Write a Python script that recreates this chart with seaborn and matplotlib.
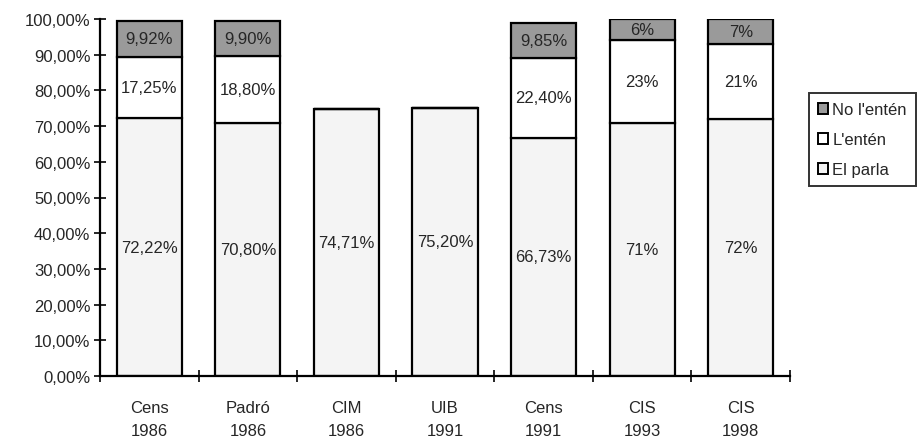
import matplotlib
matplotlib.use("Agg")
import matplotlib.pyplot as plt
from matplotlib.patches import Patch
import seaborn as sns
import pandas as pd
import numpy as np

categories = ["Cens\n1986", "Padró\n1986", "CIM\n1986", "UIB\n1991", "Cens\n1991", "CIS\n1993", "CIS\n1998"]
el_parla = [72.22, 70.80, 74.71, 75.20, 66.73, 71, 72]
l_enten = [17.25, 18.80, 0, 0, 22.40, 23, 21]
no_l_enten = [9.92, 9.90, 0, 0, 9.85, 6, 7]
lab_parla = ["72,22%", "70,80%", "74,71%", "75,20%", "66,73%", "71%", "72%"]
lab_enten = ["17,25%", "18,80%", "", "", "22,40%", "23%", "21%"]
lab_no = ["9,92%", "9,90%", "", "", "9,85%", "6%", "7%"]
yticks = list(range(0, 101, 10))
ytick_labels = ["%d,00%%" % v for v in yticks]

sns.set_style("ticks")
plt.rcParams['font.family'] = ['Liberation Sans', 'DejaVu Sans']

fig = plt.figure(figsize=(9.17, 4.39), dpi=100)
ax = fig.add_axes([100/917, 62/439, 690/917, 357/439])

df = pd.DataFrame({"cat": categories, "parla": el_parla, "enten": l_enten, "no": no_l_enten})
c_parla, c_enten, c_no = "#f4f4f4", "#ffffff", "#9a9a9a"
W = 0.66
sns.barplot(data=df, x="cat", y="parla", color=c_parla, edgecolor="black", linewidth=1.6,
            width=W, saturation=1, ax=ax, errorbar=None)
bottom2 = np.array(el_parla)
sns.barplot(data=df, x="cat", y="enten", color=c_enten, edgecolor="black", linewidth=1.6,
            width=W, saturation=1, ax=ax, errorbar=None, bottom=bottom2)
bottom3 = np.array(el_parla) + np.array(l_enten)
sns.barplot(data=df, x="cat", y="no", color=c_no, edgecolor="black", linewidth=1.6,
            width=W, saturation=1, ax=ax, errorbar=None, bottom=bottom3)

fs = 12
for i in range(len(categories)):
    ax.text(i, el_parla[i] / 2, lab_parla[i], ha="center", va="center", fontsize=fs)
    if lab_enten[i]:
        ax.text(i, el_parla[i] + l_enten[i] / 2, lab_enten[i], ha="center", va="center", fontsize=fs)
    if lab_no[i]:
        ax.text(i, bottom3[i] + no_l_enten[i] / 2, lab_no[i], ha="center", va="center", fontsize=fs)

ax.set_xlim(-0.5, len(categories) - 0.5)
ax.set_ylim(0, 100)
ax.set_yticks(yticks)
ax.set_yticklabels(ytick_labels, fontsize=fs)
ax.set_xticks(range(len(categories)))
ax.set_xticklabels(categories, fontsize=fs, linespacing=1.7)
ax.set_xticks(np.arange(-0.5, len(categories), 1.0), minor=True)
ax.tick_params(axis="x", which="major", length=0, pad=17)
ax.tick_params(axis="x", which="minor", length=8, direction="inout", width=1.4)
ax.tick_params(axis="y", length=8, direction="inout", width=1.4, pad=3)
ax.set_xlabel("")
ax.set_ylabel("")
for s in ["top", "right"]:
    ax.spines[s].set_visible(False)
for s in ["left", "bottom"]:
    ax.spines[s].set_linewidth(1.6)
    ax.spines[s].set_color("black")

handles = [Patch(facecolor=c_no, edgecolor="black", linewidth=1.4, label="No l'entén"),
           Patch(facecolor=c_enten, edgecolor="black", linewidth=1.4, label="L'entén"),
           Patch(facecolor=c_parla, edgecolor="black", linewidth=1.4, label="El parla")]
leg = fig.legend(handles=handles, loc="upper left", bbox_to_anchor=(809/917, 1 - 94/439),
                 fontsize=fs, frameon=True, fancybox=False, handlelength=0.6, handleheight=0.6,
                 handletextpad=0.25, borderpad=0.55, labelspacing=0.9, borderaxespad=0)
leg.get_frame().set_edgecolor("black")
leg.get_frame().set_linewidth(1.4)

fig.savefig("out.png", dpi=100)
